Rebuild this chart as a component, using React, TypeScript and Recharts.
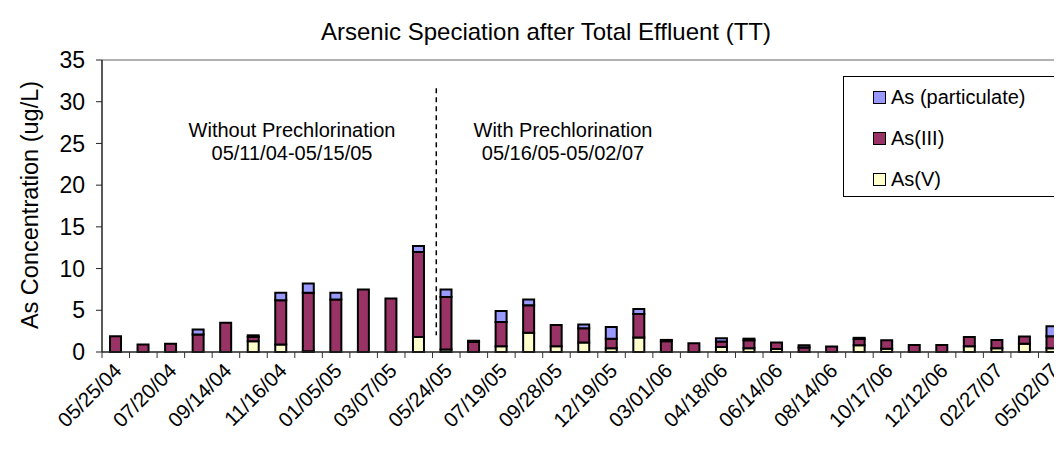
import React from 'react';
import { BarChart, Bar, XAxis, YAxis, ReferenceLine } from 'recharts';

// every second category carries a date label
const tickDates = [
  '05/25/04', '07/20/04', '09/14/04', '11/16/04', '01/05/05', '03/07/05',
  '05/24/05', '07/19/05', '09/28/05', '12/19/05', '03/01/06', '04/18/06',
  '06/14/06', '08/14/06', '10/17/06', '12/12/06', '02/27/07', '05/02/07',
];

const asV = [
  0, 0, 0, 0, 0, 1.3, 0.9, 0.1, 0, 0, 0, 1.8,
  0.3, 0, 0.7, 2.3, 0.7, 1.15, 0.45, 1.75, 0, 0, 0.6, 0.45,
  0.35, 0, 0, 0.8, 0.4, 0, 0, 0.7, 0.45, 1.0, 0.45,
];
const asIII = [
  1.9, 0.9, 1.0, 2.1, 3.5, 0.5, 5.3, 7.0, 6.3, 7.5, 6.4, 10.2,
  6.3, 1.2, 2.9, 3.3, 2.55, 1.7, 1.15, 2.8, 1.3, 1.05, 0.65, 0.95,
  0.8, 0.55, 0.65, 0.75, 1.0, 0.85, 0.85, 1.1, 1.0, 0.85, 1.45,
];
const asPart = [
  0, 0, 0, 0.6, 0, 0.2, 0.9, 1.1, 0.8, 0, 0, 0.7,
  0.9, 0.15, 1.3, 0.7, 0, 0.45, 1.4, 0.6, 0.15, 0, 0.4, 0.2,
  0, 0.25, 0, 0.15, 0, 0, 0, 0, 0, 0, 1.2,
];

const yTicks = [0, 5, 10, 15, 20, 25, 30, 35];

const data = asV.map((v, i) => ({ n: i, v, iii: asIII[i], p: asPart[i] }));

const W = 1070;
const H = 462;
const LEFT = 102;
const RIGHT = 4;
const step = (W - LEFT - RIGHT) / data.length;
const font = 'Arial, "Liberation Sans", sans-serif';

const XTick = (props: any) => {
  const { x, y, payload } = props;
  const i = payload.value as number;
  const label = i % 2 === 0 ? tickDates[i / 2] : '';
  const tx = x + 7;
  const ty = y + 20;
  return (
    <g>
      <line x1={x - step / 2} x2={x - step / 2} y1={y} y2={y + 6} stroke="#333" />
      {i === data.length - 1 && (
        <line x1={x + step / 2} x2={x + step / 2} y1={y} y2={y + 6} stroke="#333" />
      )}
      {label && (
        <text
          x={tx}
          y={ty}
          textAnchor="end"
          fontSize={20.5}
          fontFamily={font}
          fill="#000"
          transform={`rotate(-45 ${tx} ${ty})`}
        >
          {label}
        </text>
      )}
    </g>
  );
};

const DashedDivider = (props: any) => {
  const { x1, y1, y2 } = props;
  const x = x1 - 10;
  return <line x1={x} x2={x} y1={y1} y2={y2} stroke="#000" strokeWidth={1.5} strokeDasharray="5 4" />;
};

const legendItems = [
  { name: 'As (particulate)', color: '#9999FF' },
  { name: 'As(III)', color: '#993366' },
  { name: 'As(V)', color: '#FFFFCC' },
];

const textStyle: React.CSSProperties = {
  position: 'absolute',
  fontFamily: font,
  color: '#000',
  whiteSpace: 'nowrap',
  transform: 'translate(-50%, -50%)',
};

export default function App() {
  return (
    <div style={{ marginLeft: -8, marginTop: -8, width: 1062, height: H, overflow: 'hidden', position: 'relative', background: '#fff' }}>
      <BarChart
        width={W}
        height={H}
        data={data}
        margin={{ top: 60, right: RIGHT, bottom: 0, left: 0 }}
        barSize={11}
      >
        <XAxis
          dataKey="n"
          type="category"
          height={110}
          interval={0}
          tickSize={0}
          tickMargin={0}
          tickLine={false}
          axisLine={{ stroke: '#222', strokeWidth: 1.5 }}
          tick={<XTick />}
        />
        <YAxis
          width={LEFT}
          domain={[0, 35]}
          ticks={yTicks}
          interval={0}
          tickSize={6}
          tickMargin={11}
          axisLine={{ stroke: '#222', strokeWidth: 1.5 }}
          tickLine={{ stroke: '#222' }}
          tick={{ fontSize: 23, fill: '#000', fontFamily: font }}
        />
        <ReferenceLine y={35} stroke="#999" strokeWidth={1.5} />
        <ReferenceLine
          segment={[{ x: 12, y: 31.6 }, { x: 12, y: 2 }]}
          shape={<DashedDivider />}
        />
        <Bar dataKey="v" stackId="a" fill="#FFFFCC" stroke="#000" strokeWidth={2} isAnimationActive={false} />
        <Bar dataKey="iii" stackId="a" fill="#993366" stroke="#000" strokeWidth={2} isAnimationActive={false} />
        <Bar dataKey="p" stackId="a" fill="#9999FF" stroke="#000" strokeWidth={2} isAnimationActive={false} />
      </BarChart>

      <div style={{ ...textStyle, left: 546, top: 32, fontSize: 24 }}>
        Arsenic Speciation after Total Effluent (TT)
      </div>
      <div style={{ ...textStyle, left: 30, top: 205, fontSize: 23.5, transform: 'translate(-50%, -50%) rotate(-90deg)' }}>
        As Concentration (ug/L)
      </div>
      <div style={{ ...textStyle, left: 292, top: 130, fontSize: 20 }}>Without Prechlorination</div>
      <div style={{ ...textStyle, left: 292, top: 153, fontSize: 20 }}>05/11/04-05/15/05</div>
      <div style={{ ...textStyle, left: 563, top: 130, fontSize: 20 }}>With Prechlorination</div>
      <div style={{ ...textStyle, left: 563, top: 153, fontSize: 20 }}>05/16/05-05/02/07</div>

      <div
        style={{
          position: 'absolute',
          left: 843,
          top: 76,
          width: 212,
          height: 119,
          border: '1px solid #000',
          background: '#fff',
          fontFamily: font,
          fontSize: 20,
        }}
      >
        {legendItems.map((it, k) => (
          <div key={it.name} style={{ position: 'absolute', left: 29, top: 9 + k * 41, display: 'flex', alignItems: 'center', whiteSpace: 'nowrap' }}>
            <span style={{ display: 'inline-block', width: 11, height: 11, background: it.color, border: '1px solid #000', marginRight: 5 }} />
            <span>{it.name}</span>
          </div>
        ))}
      </div>
    </div>
  );
}
